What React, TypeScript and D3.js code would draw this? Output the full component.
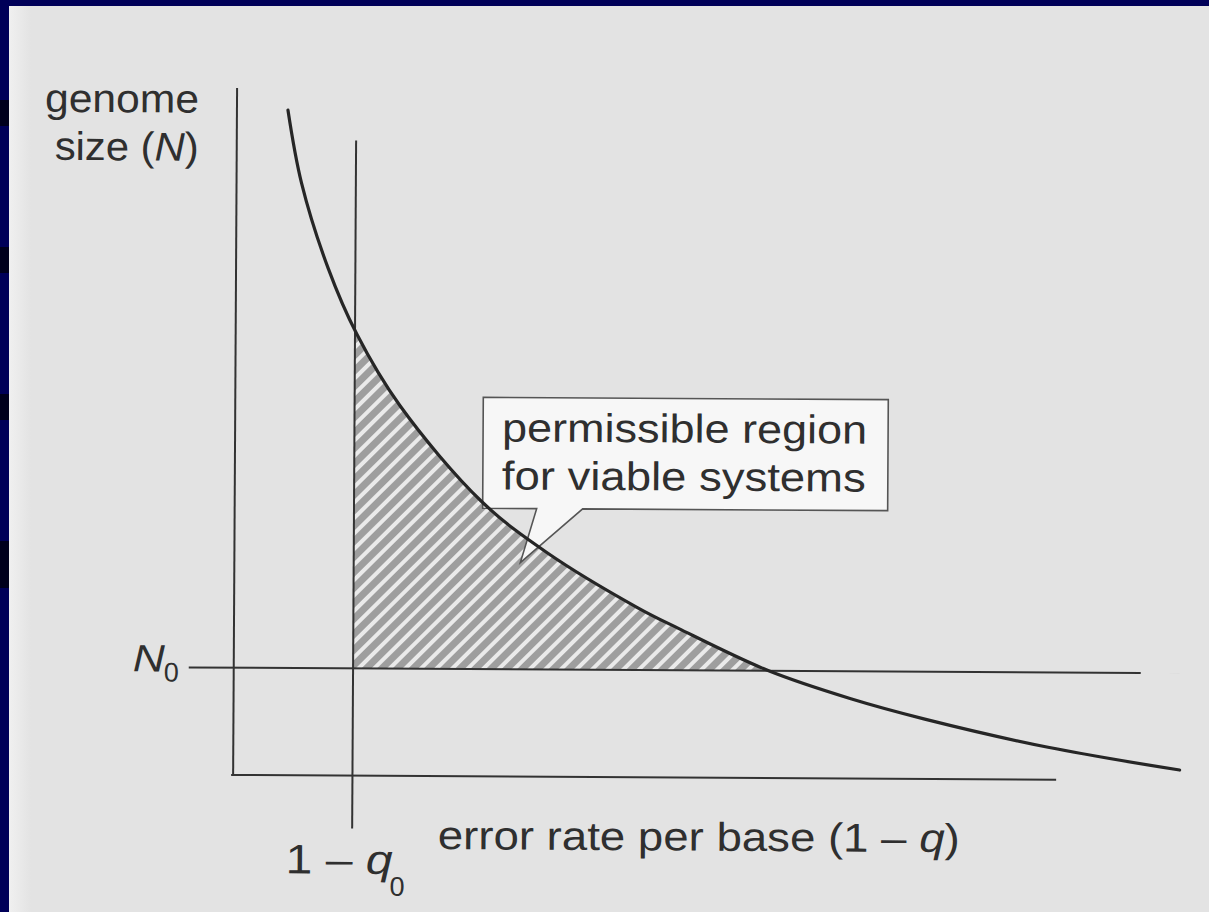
import React from 'react';
import * as d3 from 'd3';

// Viability curve: genome size (N) that can be sustained at a given error rate per base (1 − q)
const errorRate = [0.62, 0.79, 1.12, 1.47, 2.0, 3.0, 3.8, 4.9, 5.4, 6.5, 7.5, 8.4, 9.9, 11.5];
const genomeSize = [9.68, 8.62, 7.38, 6.43, 5.39, 4.0, 3.26, 2.47, 2.17, 1.56, 1.16, 0.87, 0.47, 0.15];

// Threshold values marked on the axes
const thresholdError = 1.45; // 1 − q0
const thresholdGenome = 1.56; // N0

const xDomain: [number, number] = [0, 10];
const yDomain: [number, number] = [0, 10];

const yLabelLines = ['genome', 'size ('];
const xLabel = 'error rate per base (1 – ';
const calloutLines = ['permissible region', 'for viable systems'];

const FONT = '"Liberation Sans", Arial, "Noto Sans", sans-serif';
const INK = '#2f2f2f';

export default function App() {
  const W = 1209;
  const H = 912;

  const x = d3.scaleLinear().domain(xDomain).range([235, 1058]);
  const y = d3.scaleLinear().domain(yDomain).range([777, 90]);

  const pts: [number, number][] = errorRate.map((e, i) => [e, genomeSize[i]]);
  const smooth = d3.curveCatmullRom.alpha(0.5);

  const curvePath = d3
    .line<[number, number]>()
    .x((d) => x(d[0]))
    .y((d) => y(d[1]))
    .curve(smooth)(pts) as string;

  const regionPath = d3
    .area<[number, number]>()
    .x((d) => x(d[0]))
    .y0(y(thresholdGenome))
    .y1((d) => y(d[1]))
    .curve(smooth)(pts) as string;

  const qx = x(thresholdError);
  const ny = y(thresholdGenome);

  // callout box with its pointer
  const box = { l: 483, t: 398, r: 888, b: 509 };
  const calloutPath = `M${box.l},${box.t} H${box.r} V${box.b} H583 L521,563 L537,${box.b} H${box.l} Z`;

  return (
    <svg
      width={W}
      height={H}
      viewBox={`0 0 ${W} ${H}`}
      style={{ position: 'absolute', left: 0, top: 0, display: 'block' }}
    >
      <defs>
        <pattern
          id="hatch"
          patternUnits="userSpaceOnUse"
          width={11}
          height={11}
          patternTransform="rotate(45)"
        >
          <rect width={11} height={11} fill="#9e9e9e" />
          <rect x={0} y={0} width={4} height={11} fill="#eaeaea" />
        </pattern>
        <clipPath id="regionClip">
          <rect x={qx} y={0} width={W} height={ny} />
        </clipPath>
        <linearGradient id="edgeFade" x1="0" x2="1" y1="0" y2="0">
          <stop offset="0" stopColor="#f0f0f0" />
          <stop offset="1" stopColor="#e3e3e3" />
        </linearGradient>
      </defs>

      {/* slide frame and paper */}
      <rect x={0} y={0} width={W} height={H} fill="#000058" />
      <rect x={9} y={6} width={W - 9} height={H - 6} fill="#e3e3e3" />
      <rect x={9} y={6} width={22} height={H - 6} fill="url(#edgeFade)" />
      {[
        [100, 126],
        [247, 273],
        [394, 420],
        [541, 588],
      ].map(([a, b], i) => (
        <rect key={i} x={0} y={a} width={9} height={b - a} fill="#00001c" />
      ))}

      <g transform="rotate(0.33 600 450)">
        {/* permissible region */}
        <path d={regionPath} fill="url(#hatch)" clipPath="url(#regionClip)" />

        {/* axes */}
        <line x1={x(0)} x2={x(0)} y1={y(10)} y2={y(0)} stroke="#333" strokeWidth={2} />
        <line x1={x(0) - 2} x2={x(10)} y1={y(0)} y2={y(0)} stroke="#333" strokeWidth={2} />

        {/* thresholds */}
        <line x1={190} x2={1142} y1={ny} y2={ny} stroke="#333" strokeWidth={2} />
        <line x1={qx} x2={qx} y1={142} y2={830} stroke="#333" strokeWidth={2} />

        {/* callout */}
        <path d={calloutPath} fill="#f7f7f7" stroke="#555" strokeWidth={1.6} />

        {/* viability curve */}
        <path d={curvePath} fill="none" stroke="#262626" strokeWidth={3.2} strokeLinecap="round" />

        <g fontFamily={FONT} fill={INK}>
          {calloutLines.map((t, i) => (
            <text
              key={t}
              x={502}
              y={442 + i * 48}
              fontSize={40}
              textLength={i === 0 ? 365 : 364}
              lengthAdjust="spacingAndGlyphs"
            >
              {t}
            </text>
          ))}

          <text x={43} y={115} fontSize={40} textLength={154} lengthAdjust="spacingAndGlyphs">
            {yLabelLines[0]}
          </text>
          <text x={53} y={163} fontSize={40} textLength={144} lengthAdjust="spacingAndGlyphs">
            {yLabelLines[1]}
            <tspan fontStyle="italic">N</tspan>)
          </text>

          <text x={134} y={674} fontSize={38} fontStyle="italic" textLength={32} lengthAdjust="spacingAndGlyphs">
            N
          </text>
          <text x={165} y={684} fontSize={27}>
            0
          </text>

          <text x={288} y={875} fontSize={41} textLength={107} lengthAdjust="spacingAndGlyphs">
            1 – <tspan fontStyle="italic">q</tspan>
          </text>
          <text x={392} y={897} fontSize={27}>
            0
          </text>

          <text x={440} y={850} fontSize={40} textLength={522} lengthAdjust="spacingAndGlyphs">
            {xLabel}
            <tspan fontStyle="italic">q</tspan>)
          </text>
        </g>
      </g>
    </svg>
  );
}
